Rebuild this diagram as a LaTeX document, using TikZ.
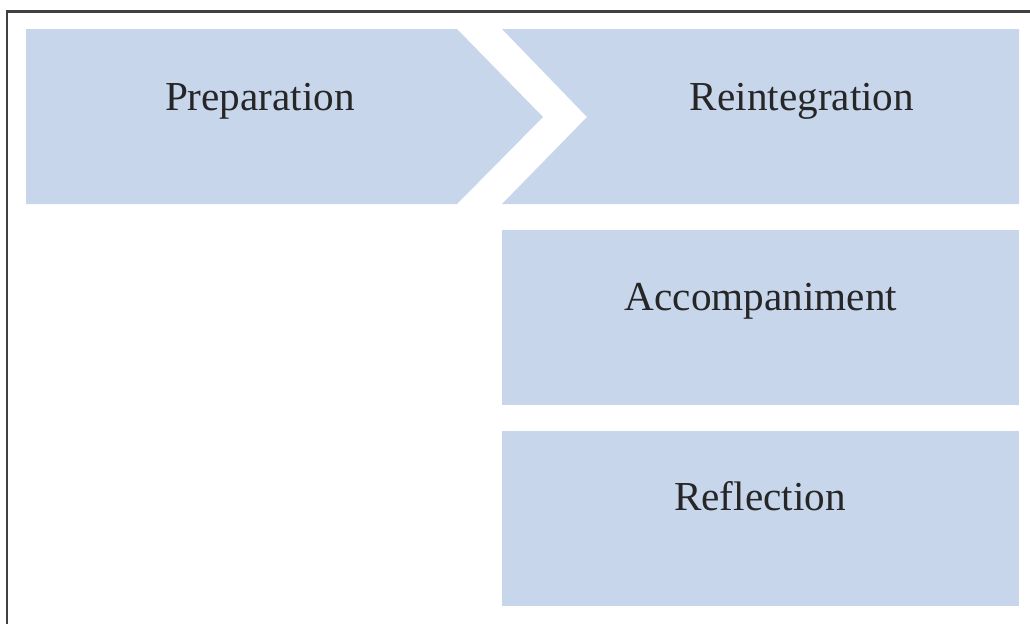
\documentclass[tikz,border=0pt]{standalone}
\usepackage{fontspec}
\setmainfont{Liberation Serif}
\usetikzlibrary{positioning,calc}
\definecolor{phasefill}{RGB}{200,214,236}

\begin{document}
\begin{tikzpicture}[x=0.5pt, y=-0.5pt,
        phase/.style={fill=phasefill, draw=none},
        block/.style={rectangle, fill=phasefill, minimum width=258.5pt, minimum height=87.5pt, inner sep=0pt},
        label/.style={font=\fontsize{20.6pt}{23pt}\selectfont, text=black!85, anchor=base, inner sep=0pt},
        frame/.style={draw=black!75, line width=1.1pt}]
        \useasboundingbox (0,0) rectangle (1030,623);
        % outer frame, cut off at right and bottom
        \draw [frame] (7,630) -- (7,11.5) -- (1040,11.5);

        % chevrons of the first row
        \path [phase] (26,29) -- (457,29) -- (543,117) -- (457,204) -- (26,204) -- cycle;
        \path [phase] (502,29) -- (1019,29) -- (1019,204) -- (502,204) -- (587,117) -- cycle;
        \node [label] (prep) at (260,110) {Preparation};
        \node [label] (reint) at (802,110) {Reintegration};

        % steps below
        \node [block] (accomp) at (760.5,317.5) {};
        \node [block] (refl) at (760.5,518.5) {};
        \node [label] (accomptext) at (761,310) {Accompaniment};
        \node [label] (refltext) at (760,510) {Reflection};
    \end{tikzpicture}
\end{document}
